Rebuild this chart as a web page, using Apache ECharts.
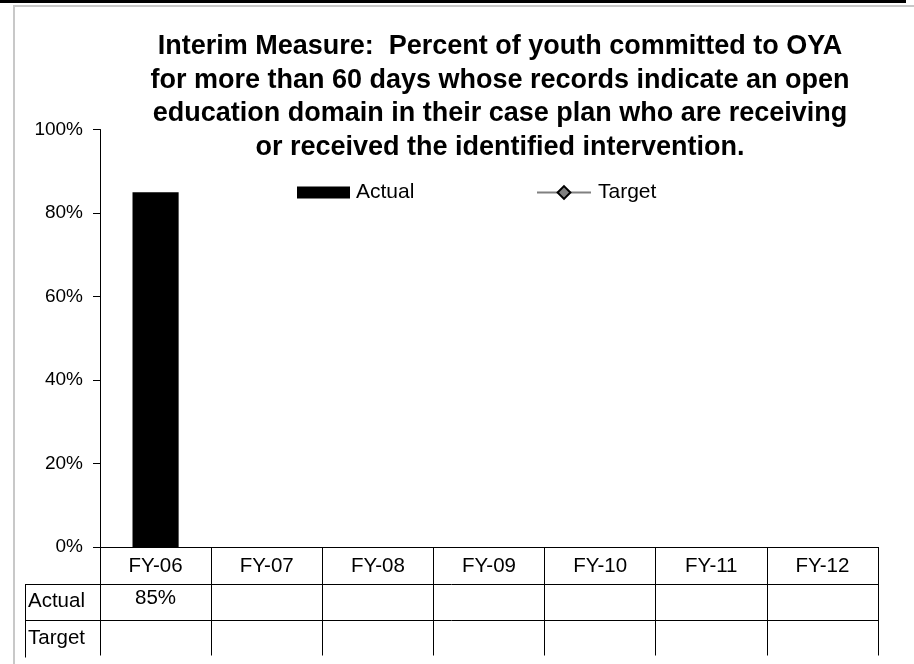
<!DOCTYPE html>
<html>
<head>
<meta charset="utf-8">
<script src="https://cdn.jsdelivr.net/npm/echarts@6/dist/echarts.min.js"></script>
<style>
  html, body { margin: 0; padding: 0; background: #fff; }
  #chart { width: 914px; height: 664px; }
</style>
</head>
<body>
<div id="chart"></div>
<script>
// Fiscal years shown along the bottom
const categories = ['FY-06', 'FY-07', 'FY-08', 'FY-09', 'FY-10', 'FY-11', 'FY-12'];
// Percent of youth receiving the identified intervention
const actualValues = [85, null, null, null, null, null, null];
const targetValues = [null, null, null, null, null, null, null];
// Row labels of the data table under the plot
const tableRows = ['Actual', 'Target'];

const titleText = 'Interim Measure:  Percent of youth committed to OYA\n' +
  'for more than 60 days whose records indicate an open\n' +
  'education domain in their case plan who are receiving\n' +
  'or received the identified intervention.';

const FONT = 'Liberation Sans, Arial, Helvetica, sans-serif';
const ROW_H = 36.5;
const TXT = 20.5;

const chart = echarts.init(document.getElementById('chart'), null, { renderer: 'canvas' });

chart.setOption({
  backgroundColor: '#ffffff',
  animation: false,
  title: {
    text: titleText,
    left: 495,
    top: 25,
    textAlign: 'center',
    textStyle: { fontFamily: FONT, fontSize: 27, fontWeight: 'bold', color: '#000', lineHeight: 33.5 }
  },
  legend: [
    {
      data: [{ name: 'Actual', icon: 'rect' }],
      left: 297, top: 182, padding: 0,
      itemWidth: 53, itemHeight: 12, itemGap: 6,
      textStyle: { fontFamily: FONT, fontSize: 21, color: '#000', padding: [0, 0, 0, 1] }
    },
    {
      data: ['Target'],
      left: 536, top: 182, padding: 0,
      itemWidth: 54, itemHeight: 16,
      textStyle: { fontFamily: FONT, fontSize: 21, color: '#000', padding: [0, 0, 0, 2] }
    }
  ],
  grid: { left: 100, right: 36, top: 129.5, bottom: 117, containLabel: false },
  xAxis: {
    type: 'category',
    data: categories,
    boundaryGap: true,
    axisLine: { show: true, lineStyle: { color: '#000', width: 1 } },
    axisTick: { show: true, interval: 0, length: ROW_H * 3 - 1, lineStyle: { color: '#000', width: 1 } },
    axisLabel: { margin: 9, fontFamily: FONT, fontSize: TXT, color: '#000', interval: 0 },
    splitLine: { show: false }
  },
  yAxis: {
    type: 'value',
    min: 0, max: 100, interval: 20,
    axisLine: { show: true, lineStyle: { color: '#000', width: 1 } },
    axisTick: { show: true, length: 7, lineStyle: { color: '#000' } },
    axisLabel: { formatter: '{value}%', margin: 17, fontFamily: FONT, fontSize: 19, color: '#000' },
    splitLine: { show: false }
  },
  series: [
    {
      name: 'Actual',
      type: 'bar',
      data: actualValues,
      barWidth: '41.5%',
      itemStyle: { color: '#000' }
    },
    {
      name: 'Target',
      type: 'line',
      data: targetValues,
      symbol: 'diamond',
      symbolSize: 12,
      lineStyle: { color: '#808080', width: 1.5 },
      itemStyle: { color: '#808080', borderColor: '#000', borderWidth: 1.5 }
    }
  ]
});

// Data table under the plot, laid out from the category axis positions
function drawTable() {
  const n = categories.length;
  const c0 = chart.convertToPixel({ xAxisIndex: 0 }, 0);
  const c1 = chart.convertToPixel({ xAxisIndex: 0 }, 1);
  const step = c1 - c0;
  const xLeft = c0 - step / 2;
  const xRight = xLeft + step * n;
  const yBase = chart.convertToPixel({ yAxisIndex: 0 }, 0);
  const labelLeft = 25;
  const els = [];
  const line = (x1, y1, x2, y2) => els.push({
    type: 'line', silent: true,
    shape: { x1, y1, x2, y2 },
    style: { stroke: '#000', lineWidth: 1 }
  });
  // horizontal rules
  for (let r = 1; r <= tableRows.length; r++) {
    const y = Math.round(yBase + ROW_H * r) + 0.5;
    line(labelLeft, y, xRight, y);
  }
  line(labelLeft + 0.5, Math.round(yBase + ROW_H) + 0.5, labelLeft + 0.5, Math.round(yBase + ROW_H * 3) + 0.5);
  // row labels and values
  const rowValues = [actualValues, targetValues];
  tableRows.forEach((name, r) => {
    const yc = yBase + ROW_H * (r + 1.5);
    els.push({
      type: 'text', silent: true,
      style: { text: name, x: labelLeft + 3, y: yc, verticalAlign: 'middle', textAlign: 'left',
               font: TXT + 'px ' + FONT, fill: '#000' }
    });
    rowValues[r].forEach((v, i) => {
      if (v == null) return;
      els.push({
        type: 'text', silent: true,
        style: { text: v + '%', x: xLeft + step * (i + 0.5), y: yc - 3, verticalAlign: 'middle', textAlign: 'center',
                 font: TXT + 'px ' + FONT, fill: '#000' }
      });
    });
  });
  // page frame
  els.push({ type: 'rect', silent: true, shape: { x: 0, y: 0, width: 906, height: 3 }, style: { fill: '#000' } });
  els.push({ type: 'rect', silent: true, shape: { x: 13, y: 5, width: 901, height: 2 }, style: { fill: '#c8c8c8' } });
  els.push({ type: 'rect', silent: true, shape: { x: 13, y: 5, width: 2, height: 659 }, style: { fill: '#c8c8c8' } });
  chart.setOption({ graphic: { elements: els } });
}
drawTable();
</script>
</body>
</html>
